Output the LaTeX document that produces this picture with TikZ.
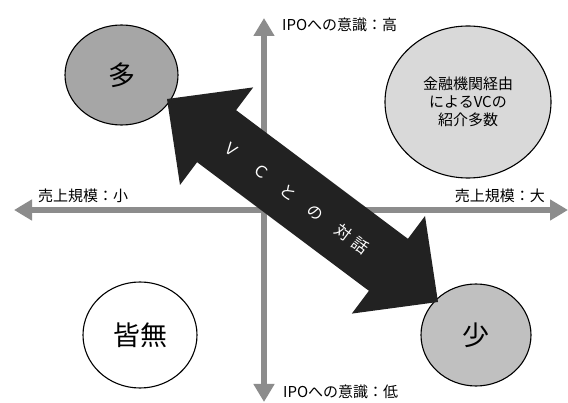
\documentclass[tikz,border=0pt]{standalone}
\usepackage{fontspec}
\setmainfont{Noto Sans CJK JP}
\usetikzlibrary{arrows.meta,shapes.geometric}
\definecolor{axisgray}{HTML}{8C8C8C}
\definecolor{manyfill}{HTML}{A6A6A6}
\definecolor{fewfill}{HTML}{C0C0C0}
\definecolor{finfill}{HTML}{D9D9D9}
\definecolor{arrowfill}{HTML}{222222}
\begin{document}
\begin{tikzpicture}[x=1pt,y=-1pt,
  axisline/.style={draw=axisgray,line width=6pt,{Triangle[length=18pt,width=20pt]}-{Triangle[length=18pt,width=20pt]}},
  axislabel/.style={font=\fontsize{15}{18}\selectfont,inner sep=0pt},
  blob/.style={ellipse,draw=black,line width=1.1pt,inner sep=0pt},
  bigchar/.style={font=\fontsize{27}{30}\selectfont}]
\useasboundingbox (0,0) rectangle (568,403);
\fill[white] (0,0) rectangle (568,403);
% axes
\coordinate (xl) at (14,210);
\coordinate (xr) at (568,210);
\coordinate (yt) at (264,18);
\coordinate (yb) at (264,402);
\draw[axisline] (xl) -- (xr);
\draw[axisline] (yb) -- (yt);
% axis labels
\node[axislabel,anchor=west] (lhigh) at (282,25) {IPOへの意識：高};
\node[axislabel,anchor=west] (llow) at (283,392) {IPOへの意識：低};
\node[axislabel,anchor=west] (lsmall) at (38,196) {売上規模：小};
\node[axislabel,anchor=east] (lbig) at (545,196) {売上規模：大};
% circles
\node[blob,fill=manyfill,minimum width=113pt,minimum height=100pt,bigchar] (many) at (121.5,75) {多};
\node[blob,fill=finfill,minimum width=166pt,minimum height=152pt,font=\fontsize{15}{18}\selectfont,align=center] (fin) at (468,102) {金融機関経由\\によるVCの\\紹介多数};
\node[blob,fill=white,minimum width=114pt,minimum height=106pt,bigchar] (none) at (140,335) {皆無};
\node[blob,fill=fewfill,minimum width=110pt,minimum height=102pt,bigchar] (few) at (476,335) {少};
% double block arrow
\fill[arrowfill] (167,99) -- (253.2,87.4) -- (236.1,110.2) -- (407.9,238.8) -- (425,216)
  -- (438,302) -- (351.8,313.6) -- (368.9,290.8) -- (197.1,162.2) -- (180,185) -- cycle;
\node[text=white,rotate=-36.8,font=\fontsize{16}{18}\selectfont,inner sep=0pt] (talk) at (296,197.5)
  {Ｖ\hspace{21pt}Ｃ\hspace{18pt}と\hspace{18pt}の\hspace{18pt}対\hspace{5pt}話};
\end{tikzpicture}
\end{document}
